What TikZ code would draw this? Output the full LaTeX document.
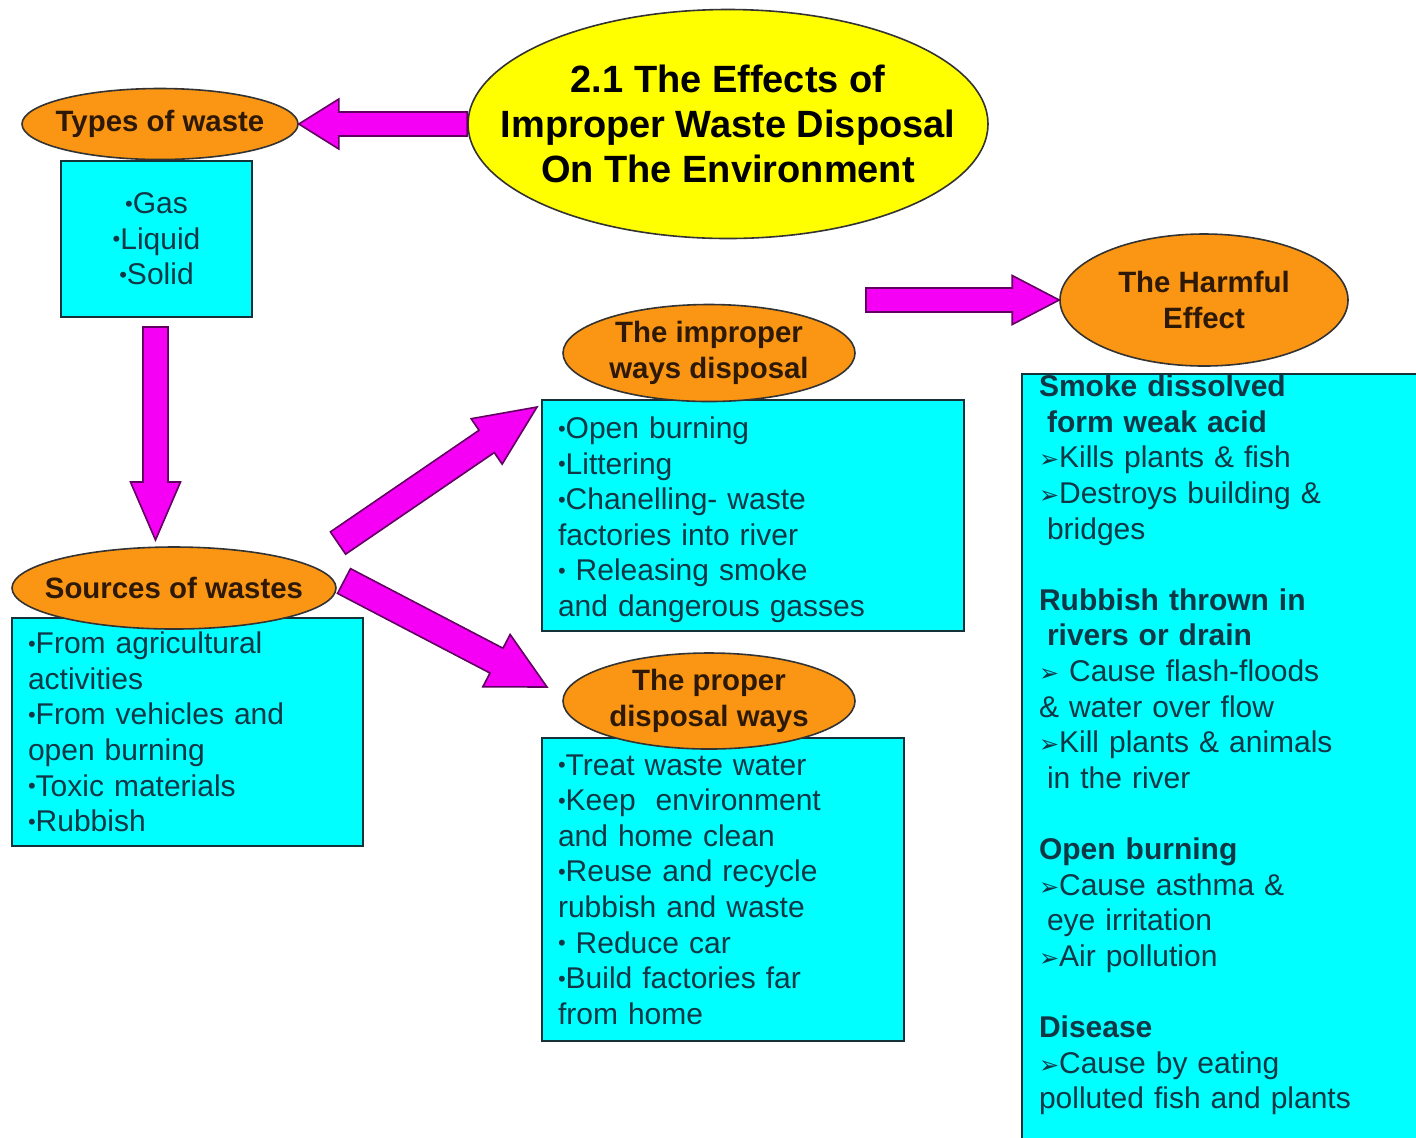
\documentclass[tikz,border=0pt]{standalone}
\usepackage{fontspec}
\setmainfont{Liberation Sans}
\newfontfamily\dingfont{DejaVu Sans}
\usetikzlibrary{shapes.geometric, calc}

\definecolor{bubbleorange}{RGB}{250,150,20}
\definecolor{titleyellow}{RGB}{255,255,0}
\definecolor{listcyan}{RGB}{0,255,255}
\definecolor{arrowpink}{RGB}{245,0,245}
\definecolor{listtext}{RGB}{15,55,70}
\definecolor{boxline}{RGB}{20,50,55}
\definecolor{bubbletext}{RGB}{45,25,5}

\tikzstyle{cyan panel}=[fill=listcyan, draw=boxline, line width=1pt]
\tikzstyle{listbox}=[cyan panel, rectangle, anchor=north west, inner xsep=8pt, inner ysep=0pt, align=left, text=listtext, font=\fontsize{15}{17.8}\selectfont]
\tikzstyle{bubble}=[ellipse, draw=black!80, fill=bubbleorange, line width=0.8pt, inner xsep=-25pt, inner ysep=-3pt, align=center, text=bubbletext, font=\bfseries\fontsize{14.7}{18}\selectfont]
\tikzstyle{block arrow}=[fill=arrowpink, draw=black!60!arrowpink, line width=0.8pt, line join=miter]

\newcommand{\bul}{\raisebox{0.08em}{\fontsize{11}{11}\selectfont •}}
\newcommand{\arw}{{\dingfont\fontsize{12}{12}\selectfont ➢}}
% tail, tip, half shaft, half head, head length
\newcommand{\blockarrow}[5]{%
  \coordinate (ba-h) at ($(#2)!#5!(#1)$);
  \draw[block arrow] ($(#1)!#3!90:(#2)$) -- ($(ba-h)!#3!90:(#2)$) -- ($(ba-h)!#4!90:(#2)$)
    -- (#2) -- ($(ba-h)!#4!-90:(#2)$) -- ($(ba-h)!#3!-90:(#2)$) -- ($(#1)!#3!-90:(#2)$) -- cycle;}

\begin{document}
\begin{tikzpicture}[x=0.5pt, y=-0.5pt]
	\useasboundingbox (0,0) rectangle (1416,1137);

	% Lists
	\node[listbox, align=center, text width=79.5pt, minimum width=95.5pt, minimum height=78pt] (typesbox) at (60,160)
		{\bul Gas\\ \bul Liquid\\ \bul Solid};
	\node[listbox, text width=159.5pt, minimum width=175.5pt, minimum height=114pt] (srcbox) at (11,617)
		{\bul From agricultural\\ activities\\ \bul From vehicles and\\ open burning\\ \bul Toxic materials\\ \bul Rubbish};
	\node[listbox, text width=195pt, minimum width=211pt, minimum height=115.5pt] (badbox) at (541,399)
		{\rule{0pt}{15pt}\bul Open burning\\ \bul Littering\\ \bul Chanelling- waste\\ factories into river\\ \bul\ Releasing smoke\\ and dangerous gasses};
	\node[listbox, text width=165pt, minimum width=181pt, minimum height=151.5pt] (goodbox) at (541,737)
		{\bul Treat waste water\\ \bul Keep\ \ environment\\ and home clean\\ \bul Reuse and recycle\\ rubbish and waste\\ \bul\ Reduce car\\ \bul Build factories far\\ from home};
	\draw[cyan panel] (1022,374) rectangle (1440,1160);
	\node[listbox, draw=none, fill=none, text width=190pt] (harmbox) at (1022,374)
		{\textbf{Smoke dissolved}\\ \hspace{4pt}\textbf{form weak acid}\\ \arw Kills plants \& fish\\ \arw Destroys building \&\\ \hspace{4pt}bridges\\[17.8pt]
		 \textbf{Rubbish thrown in}\\ \hspace{4pt}\textbf{rivers or drain}\\ \arw\ Cause flash-floods\\ \& water over flow\\ \arw Kill plants \& animals\\ \hspace{4pt}in the river\\[17.8pt]
		 \textbf{Open burning}\\ \arw Cause asthma \&\\ \hspace{4pt}eye irritation\\ \arw Air pollution\\[17.8pt]
		 \textbf{Disease}\\ \arw Cause by eating\\ polluted fish and plants};

	% Headings
	\node[bubble, fill=titleyellow, text=black, font=\bfseries\fontsize{19}{22.5}\selectfont, minimum width=260pt, minimum height=114.5pt] (title) at (728,124)
		{2.1 The Effects of\\Improper Waste Disposal\\On The Environment};
	\node[bubble, minimum width=138pt, minimum height=35.5pt] (types) at (160,124) {Types of waste};
	\node[bubble, minimum width=162pt, minimum height=41pt] (sources) at (174,588) {Sources of wastes};
	\node[bubble, minimum width=146pt, minimum height=48.5pt] (bad) at (709,353) {The improper\\ways disposal};
	\node[bubble, minimum width=146pt, minimum height=48pt] (good) at (709,701) {The proper\\disposal ways};
	\node[bubble, minimum width=144pt, minimum height=66pt] (harmful) at (1204,300) {The Harmful\\Effect};

	% Block arrows
	\coordinate (srctail) at (155.5,327);
	\coordinate (srctip) at (155.5,540);
	\coordinate (badtail) at (338,543);
	\coordinate (badtip) at (537,407);
	\coordinate (goodtail) at (344,581);
	\coordinate (goodtip) at (547,687);
	\coordinate (harmtail) at (866,300);

	\blockarrow{title.west}{types.east}{6pt}{12.5pt}{20pt}
	\blockarrow{srctail}{srctip}{6.25pt}{12.5pt}{29pt}
	\blockarrow{badtail}{badtip}{6.75pt}{13.75pt}{30.5pt}
	\blockarrow{goodtail}{goodtip}{7pt}{14.75pt}{28.5pt}
	\blockarrow{harmtail}{harmful.west}{6pt}{12.25pt}{23.5pt}
\end{tikzpicture}
\end{document}
